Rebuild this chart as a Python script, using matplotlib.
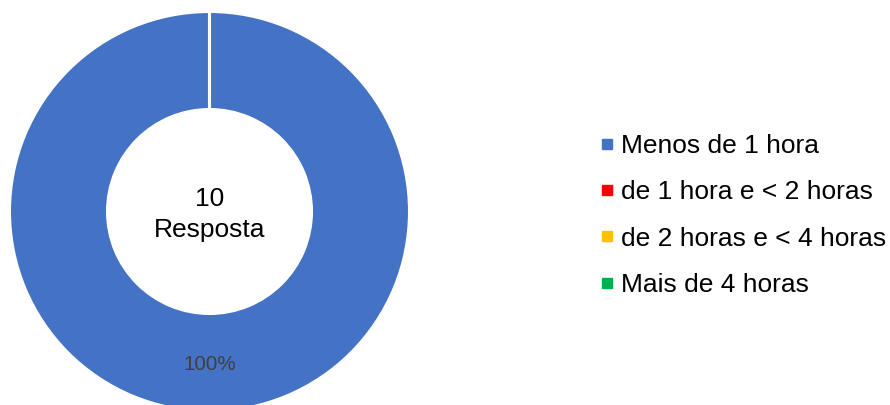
import matplotlib
matplotlib.use("Agg")
import matplotlib.pyplot as plt
from matplotlib.lines import Line2D

categories = ["Menos de 1 hora", "de 1 hora e < 2 horas", "de 2 horas e < 4 horas", "Mais de 4 horas"]
values = [10, 0, 0, 0]
colors = ["#4472C4", "#FF0000", "#FFC000", "#00B050"]
total_label = "10\nResposta"

plt.rcParams['font.family'] = ['Liberation Sans', 'DejaVu Sans']

W, H = 890, 405
fig = plt.figure(figsize=(W / 100, H / 100), dpi=100)
cx, cy, R = 209.5, 211.5, 200.0
ax = fig.add_axes([(cx - R) / W, (H - cy - R) / H, 2 * R / W, 2 * R / H])

wedges, texts, autotexts = ax.pie(
    values, colors=colors, startangle=90, counterclock=False,
    radius=1.0, normalize=True,
    autopct=lambda p: f"{p:.0f}%" if p > 0 else "",
    pctdistance=0.765,
    wedgeprops=dict(width=0.49, edgecolor="white", linewidth=2.2),
    textprops=dict(fontsize=14.8, color="#404040"),
)
ax.set_xlim(-1, 1)
ax.set_ylim(-1, 1)
ax.set_aspect("auto")
ax.axis("off")

ax.text(0, -0.015, total_label, ha="center", va="center", fontsize=19,
        color="black", linespacing=1.37)

handles = [Line2D([0], [0], marker="s", linestyle="none", markersize=7,
                  markerfacecolor=c, markeredgecolor=c) for c in colors]
fig.legend(handles, categories, loc="center left",
           bbox_to_anchor=(599 / W, 1 - 215.5 / H), frameon=False,
           fontsize=19, handlelength=0.6, handletextpad=0.25,
           labelspacing=0.84, borderpad=0, borderaxespad=0)

fig.savefig("out.png", dpi=100)
